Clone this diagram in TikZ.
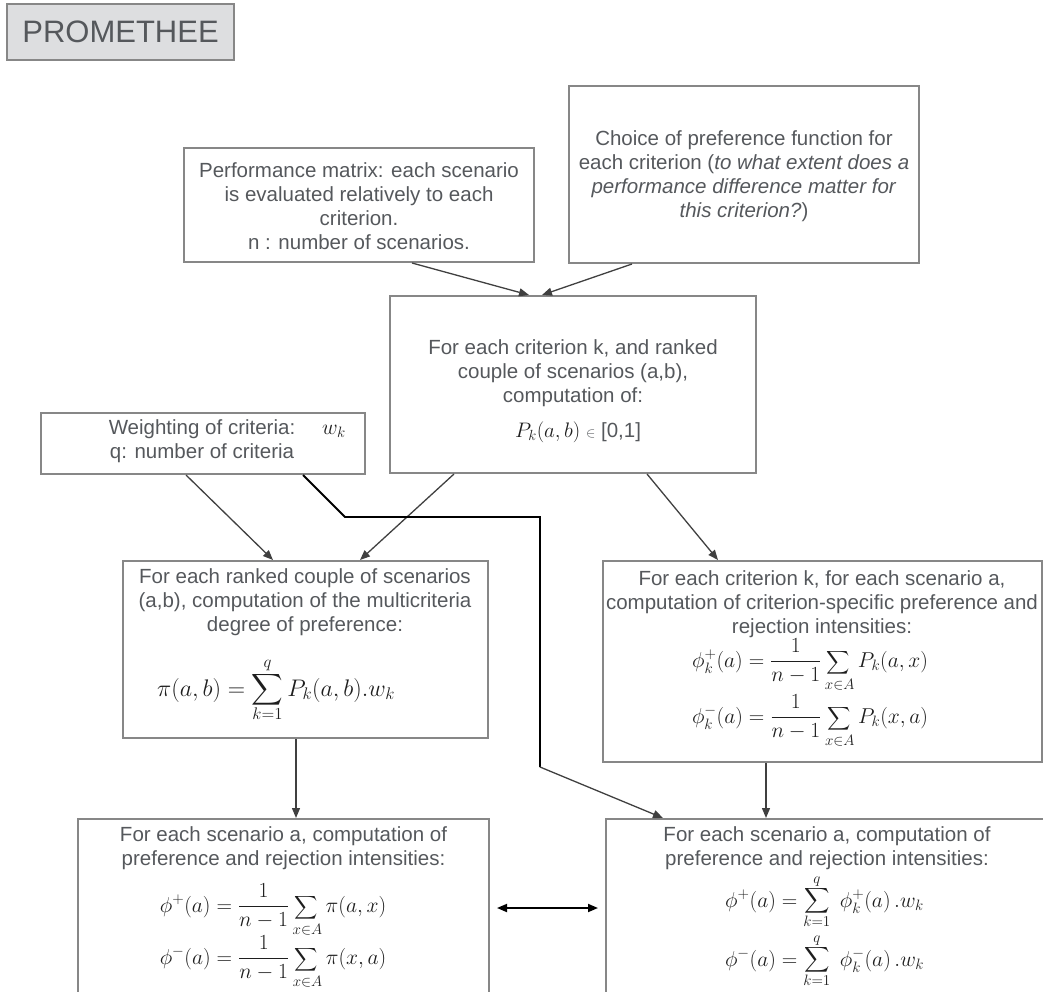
\RequirePackage{fix-cm}
\documentclass[tikz,border=0pt]{standalone}
\usepackage{exscale}
\usepackage{fontspec}
\setmainfont{Liberation Sans}
\usetikzlibrary{arrows.meta,calc}
\definecolor{boxgray}{RGB}{135,135,135}
\definecolor{txtgray}{RGB}{85,88,92}
\definecolor{argray}{RGB}{64,64,64}
\definecolor{titlefill}{RGB}{221,222,224}
\definecolor{mathc}{RGB}{30,30,30}
\newcommand{\ssum}[1]{\mathop{\scalebox{#1}{$\displaystyle\sum$}}\limits}
\newcommand{\lsum}[4]{\mathop{\vcenter{\offinterlineskip\halign{\hfil##\hfil\cr$\scriptstyle#3$\cr\noalign{\kern#1}\scalebox{#2}{$\displaystyle\sum$}\cr\noalign{\kern#1}$\scriptstyle#4$\cr}}}}
\begin{document}
\begin{tikzpicture}[x=1pt,y=-1pt,
  pbox/.style={draw=boxgray, line width=2pt, inner sep=0pt},
  ptext/.style={inner sep=0pt, align=center, text=txtgray, font=\fontsize{20.5}{24}\selectfont},
  mth/.style={inner sep=0pt, text=mathc, font=\fontsize{21.5}{25}\selectfont},
  arr/.style={draw=argray, line width=1.3pt, -{Triangle[length=10pt,width=8pt]}},
  blk/.style={draw=black, line width=1.8pt},
  dbl/.style={draw=black, line width=1.8pt, {Triangle[length=10pt,width=8pt]}-{Triangle[length=10pt,width=8pt]}}]
\useasboundingbox (0,0) rectangle (1043,992);
\clip (0,0) rectangle (1043,992);

% title
\node[pbox, fill=titlefill, minimum width=227pt, minimum height=56pt, text=txtgray, font=\fontsize{31}{36}\selectfont] (title) at (120.5,32) {PROMETHEE};

% performance matrix
\node[pbox, minimum width=350pt, minimum height=114pt] (perf) at (359,205) {};
\node[ptext] (perft) at (359,206) {Performance matrix: each scenario\\is evaluated relatively to each\\criterion.\\n : number of scenarios.};

% choice of preference function
\node[pbox, minimum width=350pt, minimum height=177pt] (choice) at (744,174.5) {};
\node[ptext] (choicet) at (744,176) {Choice of preference function for\\each criterion (\textit{to what extent does a}\\\textit{performance difference matter for}\\\textit{this criterion?})};

% middle box
\node[pbox, minimum width=366pt, minimum height=177pt] (mid) at (573,384.5) {};
\node[ptext] (midt) at (573,373) {For each criterion k, and ranked\\couple of scenarios (a,b),\\computation of:};
\node[ptext, anchor=base] (midf) at (578,437) {{\color{mathc}\fontsize{21}{25}\selectfont$P_k(a,b)$} {\fontsize{14}{14}\selectfont$\in$} [0,1]};

% weighting
\node[pbox, minimum width=324pt, minimum height=61pt] (weight) at (203,443.5) {};
\node[ptext] (weightt) at (202,441.5) {Weighting of criteria:\\q: number of criteria};
\node[mth] (wk) at (334,431) {$w_k$};

% left middle
\node[pbox, minimum width=365pt, minimum height=177pt] (lm) at (305.5,649.5) {};
\node[ptext] (lmt) at (305,602) {For each ranked couple of scenarios\\(a,b), computation of the multicriteria\\degree of preference:};
\node[mth, anchor=base, font=\fontsize{24}{28}\selectfont] (lmf) at (276,696) {$\displaystyle \pi(a,b)=\lsum{1pt}{0.88}{q}{k=1}P_k(a,b).w_k$};

% right middle
\node[pbox, minimum width=439pt, minimum height=201pt] (rm) at (822.5,661.5) {};
\node[ptext] (rmt) at (822,604) {For each criterion k, for each scenario a,\\computation of criterion-specific preference and\\rejection intensities:};
\node[mth, anchor=base] (rmf1) at (810,667) {$\displaystyle \phi_k^+(a)=\frac{1}{n-1}\ssum{0.78}_{x\in A}P_k(a,x)$};
\node[mth, anchor=base] (rmf2) at (810,723) {$\displaystyle \phi_k^-(a)=\frac{1}{n-1}\ssum{0.78}_{x\in A}P_k(x,a)$};

% bottom left
\node[pbox, minimum width=411pt, minimum height=191pt] (bl) at (283.5,914.5) {};
\node[ptext] (blt) at (283.5,848.5) {For each scenario a, computation of\\preference and rejection intensities:};
\node[mth, anchor=base] (blf1) at (273,912) {$\displaystyle \phi^+(a)=\frac{1}{n-1}\ssum{0.78}_{x\in A}\pi(a,x)$};
\node[mth, anchor=base] (blf2) at (273,964) {$\displaystyle \phi^-(a)=\frac{1}{n-1}\ssum{0.78}_{x\in A}\pi(x,a)$};

% bottom right
\node[pbox, minimum width=442pt, minimum height=191pt] (br) at (827,914.5) {};
\node[ptext] (brt) at (827,848.5) {For each scenario a, computation of\\preference and rejection intensities:};
\node[mth, anchor=base] (brf1) at (824.5,907) {$\displaystyle \phi^+(a)=\lsum{1pt}{0.85}{q}{k=1}\;\phi_k^+(a)\,.w_k$};
\node[mth, anchor=base] (brf2) at (824.5,966) {$\displaystyle \phi^-(a)=\lsum{1pt}{0.85}{q}{k=1}\;\phi_k^-(a)\,.w_k$};

% connectors
\draw[arr] (perf.south -| 412,0) -- (mid.north -| 529,0);
\draw[arr] (choice.south -| 632,0) -- (mid.north -| 542,0);
\draw[arr] (weight.south -| 186,0) -- (lm.north -| 273,0);
\draw[arr] (mid.south -| 454,0) -- (lm.north -| 360,0);
\draw[arr] (mid.south -| 647,0) -- (rm.north -| 718,0);
\draw[arr] (lm.south -| 296,0) -- (bl.north -| 296,0);
\draw[arr] (rm.south -| 766,0) -- (br.north -| 766,0);
\coordinate (k1) at (345,517);
\coordinate (k2) at (540,517);
\coordinate (k3) at (540,767);
\draw[blk] (weight.south -| 303,0) -- (k1) -- (k2) -- (k3);
\draw[arr] (k3) -- (br.north -| 663,0);
\draw[dbl, shorten <=7pt, shorten >=7pt] (bl.east |- 0,908) -- (br.west |- 0,908);
\end{tikzpicture}
\end{document}
